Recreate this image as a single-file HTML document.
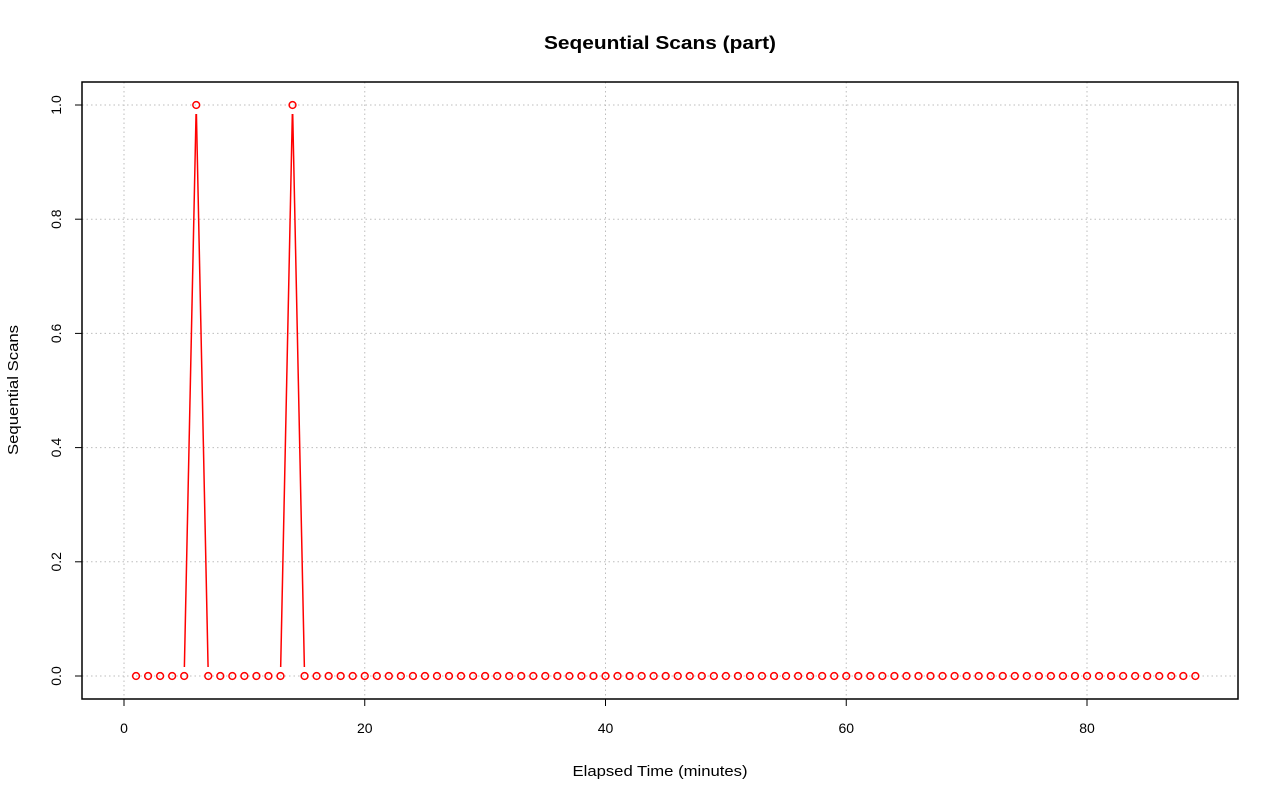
<!DOCTYPE html>
<html><head><meta charset="utf-8"><style>
html,body{margin:0;padding:0;background:#fff;}
svg{display:block;font-family:"Liberation Sans",Arial,sans-serif;}
</style></head><body>
<svg id="chart" width="1280" height="801" viewBox="0 0 1280 801">
<rect width="1280" height="801" fill="#fff"/>
<text x="660" y="49" text-anchor="middle" font-size="18" font-weight="bold" textLength="232" lengthAdjust="spacingAndGlyphs">Seqeuntial Scans (part)</text>
<text x="660" y="776" text-anchor="middle" font-size="14.5" textLength="175" lengthAdjust="spacingAndGlyphs">Elapsed Time (minutes)</text>
<text transform="translate(18,390) rotate(-90)" text-anchor="middle" font-size="14.5" textLength="130" lengthAdjust="spacingAndGlyphs">Sequential Scans</text>
<g id="grid"></g><g id="axes"></g><g id="series"></g>
<rect x="82" y="82" width="1156" height="617" fill="none" stroke="#000" stroke-width="1.5"/>
</svg>
<script>
const xTicks=[0,20,40,60,80];
const yTicks=[0,0.2,0.4,0.6,0.8,1.0];
const yTickLabels=["0.0","0.2","0.4","0.6","0.8","1.0"];
const minutes=[1,2,3,4,5,6,7,8,9,10,11,12,13,14,15,16,17,18,19,20,21,22,23,24,25,26,27,28,29,30,31,32,33,34,35,36,37,38,39,40,41,42,43,44,45,46,47,48,49,50,51,52,53,54,55,56,57,58,59,60,61,62,63,64,65,66,67,68,69,70,71,72,73,74,75,76,77,78,79,80,81,82,83,84,85,86,87,88,89];
const scans=[0,0,0,0,0,1,0,0,0,0,0,0,0,1,0,0,0,0,0,0,0,0,0,0,0,0,0,0,0,0,0,0,0,0,0,0,0,0,0,0,0,0,0,0,0,0,0,0,0,0,0,0,0,0,0,0,0,0,0,0,0,0,0,0,0,0,0,0,0,0,0,0,0,0,0,0,0,0,0,0,0,0,0,0,0,0,0,0,0];
const NS="http://www.w3.org/2000/svg";
const xs=v=>124+v*(1087-124)/80;
const ys=v=>676-v*(676-105);
function mk(tag,attrs,parent){const e=document.createElementNS(NS,tag);for(const k in attrs)e.setAttribute(k,attrs[k]);parent.appendChild(e);return e;}
const grid=document.getElementById('grid'),axes=document.getElementById('axes'),series=document.getElementById('series');
xTicks.forEach(t=>{
 const g=mk('line',{x1:xs(t),x2:xs(t),y1:82,y2:699,stroke:'#bdbdbd','stroke-dasharray':'1.5,3'},grid);
 
 
 const tk=mk('line',{x1:xs(t),x2:xs(t),y1:699,y2:706,stroke:'#000'},axes);
 
 
 const tl=mk('text',{x:xs(t),y:733,'text-anchor':'middle','font-size':'14'},axes);
 tl.textContent=t;
 
 
});
mk('line',{x1:xs(0),x2:xs(80),y1:699,y2:699,stroke:'#000'},axes);
yTicks.forEach((t,i)=>{
 const g=mk('line',{x1:82,x2:1238,y1:ys(t),y2:ys(t),stroke:'#bdbdbd','stroke-dasharray':'1.5,3'},grid);
 
 
 const tk=mk('line',{x1:75,x2:82,y1:ys(t),y2:ys(t),stroke:'#000'},axes);
 
 
 const tl=mk('text',{transform:`translate(61,${ys(t)}) rotate(-90)`,'text-anchor':'middle','font-size':'14'},axes);
 tl.textContent=yTickLabels[i];
 
 
});
const gap=9;
for(let i=0;i<minutes.length-1;i++){
 const x1=xs(minutes[i]),y1=ys(scans[i]),x2=xs(minutes[i+1]),y2=ys(scans[i+1]);
 const d=Math.hypot(x2-x1,y2-y1);if(d<=2*gap)continue;
 const ux=(x2-x1)/d,uy=(y2-y1)/d;
 const s=mk('line',{x1:x1+ux*gap,y1:y1+uy*gap,x2:x2-ux*gap,y2:y2-uy*gap,stroke:'#f00','stroke-width':'1.5'},series);
 
 
}
minutes.forEach((m,i)=>{
 const c=mk('circle',{cx:xs(m),cy:ys(scans[i]),r:3.4,fill:'none',stroke:'#f00','stroke-width':'1.5'},series);
 
 
});
</script>
</body></html>
